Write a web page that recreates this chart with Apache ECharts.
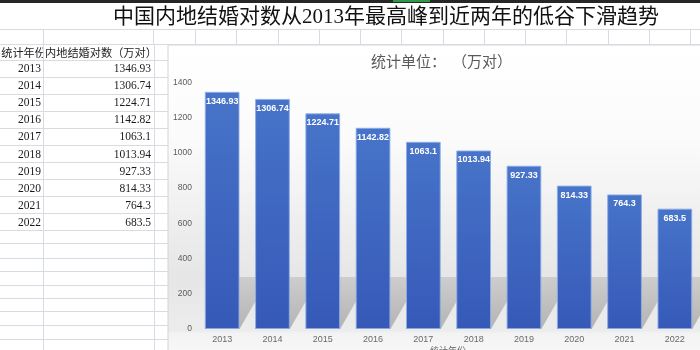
<!DOCTYPE html>
<html>
<head>
<meta charset="utf-8">
<script src="https://cdn.jsdelivr.net/npm/echarts@6/dist/echarts.min.js"></script>
<style>
  html, body { margin: 0; padding: 0; background: #ffffff; overflow: hidden; }
  #c { width: 700px; height: 350px; }
</style>
</head>
<body>
<div id="c"></div>
<script>
// Data: marriages registered in mainland China (10k couples)
const years = ['2013', '2014', '2015', '2016', '2017', '2018', '2019', '2020', '2021', '2022'];
const marriages = [1346.93, 1306.74, 1224.71, 1142.82, 1063.1, 1013.94, 927.33, 814.33, 764.3, 683.5];
const valueTexts = ['1346.93', '1306.74', '1224.71', '1142.82', '1063.1', '1013.94', '927.33', '814.33', '764.3', '683.5'];
const yMin = 0, yMax = 1400, yStep = 200;

const titleText = '中国内地结婚对数从2013年最高峰到近两年的低谷下滑趋势';
const unitLabel = '统计单位：';
const unitValue = '（万对）';
const headerYear = '统计年份';
const headerValue = '内地结婚对数（万对）';
const xAxisTitle = '统计年份';

const CJK = '"Noto Sans CJK SC", sans-serif';
const SERIF = '"Liberation Serif", "Noto Sans CJK SC", serif';
const SANS = '"Liberation Sans", Arial, sans-serif';
const LINE = '#d6dbe4';

const g = [];

// window strip at the very top
g.push({ type: 'rect', z: 20, shape: { x: 0, y: 0, width: 700, height: 3 }, style: { fill: '#262626' } });
g.push({ type: 'rect', z: 21, shape: { x: 393, y: 0, width: 37, height: 2 }, style: { fill: '#2f9a45' } });

// sheet title
g.push({ type: 'text', z: 20, x: 386, y: 17.5,
  style: { text: titleText, font: '21px ' + SERIF, fill: '#111', align: 'center', verticalAlign: 'middle' } });

// sheet grid: rows under the title
[29.5, 44.5].forEach(y => g.push({ type: 'line', z: 7, shape: { x1: 0, y1: y, x2: 700, y2: y }, style: { stroke: LINE, lineWidth: 1 } }));
const colXs = [43.5, 153.5];
for (let k = 0; k < 13; k++) colXs.push(Math.round(195 + 41.25 * k) + 0.5);
colXs.forEach(x => g.push({ type: 'line', z: 7, shape: { x1: x, y1: 29.5, x2: x, y2: 44.5 }, style: { stroke: LINE, lineWidth: 1 } }));

// table rows
const rowLines = [];
for (let k = 0; k <= 10; k++) rowLines.push(60.5 + 17 * k);
[243.5, 258.5, 271.5, 285.5, 298.5, 311.5, 325.5, 339.5].forEach(y => rowLines.push(y));
rowLines.forEach(y => g.push({ type: 'line', z: 7, shape: { x1: 0, y1: y, x2: 168, y2: y }, style: { stroke: LINE, lineWidth: 1 } }));
[43.5, 154.5].forEach(x => g.push({ type: 'line', z: 7, shape: { x1: x, y1: 44.5, x2: x, y2: 350 }, style: { stroke: LINE, lineWidth: 1 } }));

// table header
g.push({ type: 'text', z: 5, x: 46, y: 53,
  style: { text: headerYear, font: '11.2px ' + CJK, fill: '#222', align: 'right', verticalAlign: 'middle' } });
g.push({ type: 'rect', z: 6, shape: { x: 44, y: 45, width: 110, height: 15 }, style: { fill: '#ffffff' } });
g.push({ type: 'text', z: 8, x: 45, y: 53,
  style: { text: headerValue, font: '11.2px ' + CJK, fill: '#222', align: 'left', verticalAlign: 'middle' } });

// table body
years.forEach((yr, i) => {
  const cy = 69.3 + 17.04 * i;
  g.push({ type: 'text', z: 8, x: 41, y: cy,
    style: { text: yr, font: '11.5px ' + SERIF, fill: '#1a1a1a', align: 'right', verticalAlign: 'middle' } });
  g.push({ type: 'text', z: 8, x: 151, y: cy,
    style: { text: valueTexts[i], font: '11.5px ' + SERIF, fill: '#1a1a1a', align: 'right', verticalAlign: 'middle' } });
});

// embedded chart panel
g.push({ type: 'rect', z: -5, shape: { x: 168, y: 45, width: 540, height: 310 },
  style: {
    fill: new echarts.graphic.LinearGradient(0, 0, 0, 1, [
      { offset: 0, color: '#ffffff' },
      { offset: 0.3, color: '#fbfbfb' },
      { offset: 0.55, color: '#efefef' },
      { offset: 0.75, color: '#e6e6e6' },
      { offset: 0.92, color: '#ececec' },
      { offset: 0.93, color: '#f3f3f3' },
      { offset: 1, color: '#f8f8f8' }
    ]),
    stroke: '#d4d4d4', lineWidth: 1
  } });
g.push({ type: 'text', z: 10, x: 371, y: 61,
  style: { text: unitLabel, font: '15px ' + CJK, fill: '#5a5a5a', align: 'left', verticalAlign: 'middle' } });
g.push({ type: 'text', z: 10, x: 452, y: 61,
  style: { text: unitValue, font: '15px ' + CJK, fill: '#5a5a5a', align: 'left', verticalAlign: 'middle' } });
g.push({ type: 'text', z: 10, x: 448, y: 346,
  style: { text: xAxisTitle, font: '9px ' + CJK, fill: '#666', align: 'center', verticalAlign: 'top' } });

const BAR_RATIO = 0.69;

const chart = echarts.init(document.getElementById('c'), null, { renderer: 'canvas' });
chart.setOption({
  animation: false,
  backgroundColor: '#ffffff',
  graphic: { elements: g },
  grid: { left: 197, right: -3, top: 82.5, bottom: 21, containLabel: false },
  xAxis: {
    type: 'category',
    data: years,
    axisLine: { show: false },
    axisTick: { show: false },
    axisLabel: { color: '#6a6a6a', fontSize: 9, fontFamily: SANS, margin: 6 }
  },
  yAxis: {
    type: 'value',
    min: yMin, max: yMax, interval: yStep,
    axisLine: { show: false },
    axisTick: { show: false },
    splitLine: { show: false },
    axisLabel: { color: '#5a5a5a', fontSize: 8.5, fontFamily: SANS, margin: 5, formatter: v => String(v) }
  },
  series: [
    {
      // floor shadows cast by each bar
      type: 'custom',
      silent: true,
      z: 1,
      data: marriages.map((v, i) => [i, v]),
      encode: { x: 0, y: 1 },
      renderItem: function (params, api) {
        const base = api.coord([api.value(0), 0]);
        const bw = api.size([1, 0])[0] * BAR_RATIO;
        const x0 = base[0] - bw / 2, x1 = base[0] + bw / 2, y = base[1];
        return {
          type: 'polygon',
          shape: { points: [[x0, y], [x1, y], [x1 + 30, y - 52], [x0 + 30, y - 52]] },
          style: {
            fill: new echarts.graphic.LinearGradient(0, 1, 0, 0, [
              { offset: 0, color: '#b4b4b4' },
              { offset: 1, color: '#cdcdcd' }
            ])
          }
        };
      }
    },
    {
      type: 'bar',
      z: 3,
      data: marriages,
      barWidth: (BAR_RATIO * 100) + '%',
      itemStyle: {
        color: new echarts.graphic.LinearGradient(0, 0, 0, 1, [
          { offset: 0, color: '#4774c9' },
          { offset: 1, color: '#3659b8' }
        ]),
        borderColor: 'rgba(140,172,232,0.9)',
        borderWidth: 1
      },
      label: {
        show: true,
        position: 'insideTop',
        distance: 5,
        color: '#ffffff',
        fontSize: 9,
        fontWeight: 'bold',
        fontFamily: SANS,
        formatter: p => valueTexts[p.dataIndex]
      }
    }
  ]
});
</script>
</body>
</html>
